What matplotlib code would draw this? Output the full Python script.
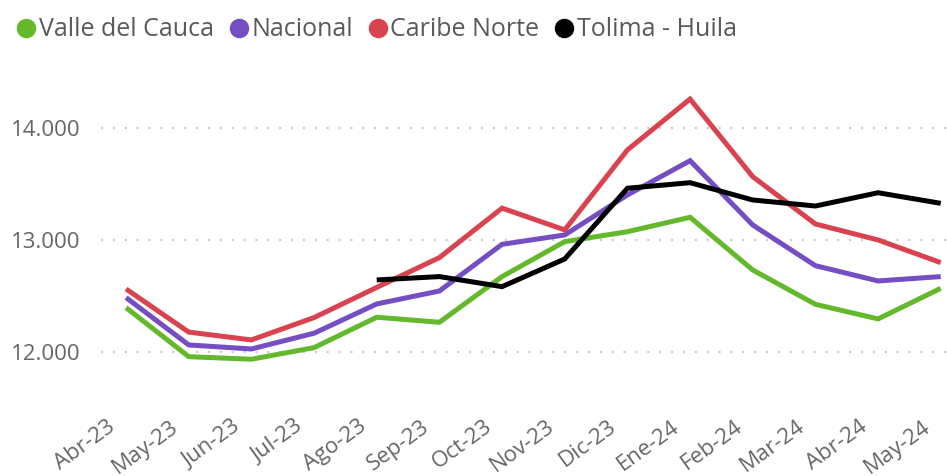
import matplotlib
matplotlib.use("Agg")
import matplotlib.pyplot as plt
import matplotlib.transforms as mtransforms
from matplotlib.lines import Line2D
import numpy as np

months = ["Abr-23", "May-23", "Jun-23", "Jul-23", "Ago-23", "Sep-23", "Oct-23",
          "Nov-23", "Dic-23", "Ene-24", "Feb-24", "Mar-24", "Abr-24", "May-24"]

valle = [12394, 11955, 11932, 12036, 12308, 12263, 12672, 12985, 13074, 13203,
         12731, 12424, 12293, 12567]
nacional = [12484, 12060, 12024, 12165, 12427, 12543, 12961, 13045, 13403, 13710,
            13134, 12770, 12633, 12672]
caribe = [12561, 12175, 12105, 12305, 12575, 12842, 13285, 13090, 13806, 14262,
          13567, 13143, 13000, 12797]
tolima = [None, None, None, None, 12642, 12672, 12582, 12830, 13463, 13513,
          13358, 13304, 13423, 13328]

series_names = ["Valle del Cauca", "Nacional", "Caribe Norte", "Tolima - Huila"]
colors = ["#64B82C", "#744EC2", "#D8434F", "#000000"]
yticks = [12000, 13000, 14000]
ytick_labels = ["12.000", "13.000", "14.000"]

plt.rcParams['font.family'] = ['Open Sans', 'DejaVu Sans']

fig = plt.figure(figsize=(9.47, 4.76), dpi=100)
ax = fig.add_axes([101/947, 1 - 400/476, (947-101)/947, 350/476])

x = np.arange(len(months))
for name, vals, c in zip(series_names, [valle, nacional, caribe, tolima], colors):
    v = np.array([np.nan if a is None else a for a in vals], dtype=float)
    ax.plot(x, v, color=c, lw=3.6, solid_joinstyle='miter', solid_capstyle='butt', zorder=3)

ax.set_xlim(-0.4, 13.1)
ax.set_ylim(11567, 14701)
ax.set_yticks(yticks)
ax.set_yticklabels(ytick_labels)
ax.set_xticks(x)
ax.set_xticklabels(months, rotation=36, ha='right', va='top', rotation_mode='anchor')
for s in ax.spines.values():
    s.set_visible(False)
ax.tick_params(axis='both', length=0, colors='#666666')
ax.tick_params(axis='y', pad=15, labelsize=16)
ax.tick_params(axis='x', pad=11.5, labelsize=16)
offset = mtransforms.ScaledTranslation(-19/100, 0, fig.dpi_scale_trans)
for lab in ax.get_xticklabels():
    lab.set_transform(lab.get_transform() + offset)
for yv in yticks:
    ax.axhline(yv, color='#c8c8c8', lw=1.5, linestyle=(0, (1, 4.7)), zorder=1)

handles = [Line2D([], [], marker='o', linestyle='none', markersize=13,
                  markerfacecolor=c, markeredgecolor=c) for c in colors]
leg = fig.legend(handles, series_names, loc='upper left', bbox_to_anchor=(0.0, 0.995),
                 ncol=4, frameon=False, handletextpad=0.05, columnspacing=0.55,
                 fontsize=18, handlelength=0.9, borderaxespad=0.2)
for t in leg.get_texts():
    t.set_color('#595959')

fig.savefig("out.png", dpi=100)
